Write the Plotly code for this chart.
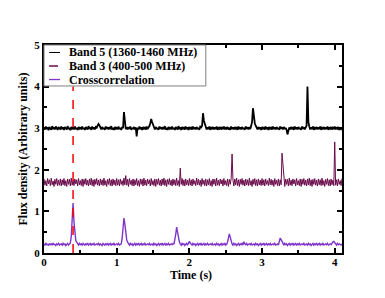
import numpy as np
import plotly.graph_objects as go

sample_step = 0.0125  # seconds between samples

band5 = [
    3.01,2.97,3.04,2.98,3.02,2.95,3.03,3.00,2.96,3.05,2.98,3.02,2.97,3.04,2.99,2.96,3.03,3.01,2.97,3.04,
    2.98,3.02,2.96,3.03,3.00,2.97,3.05,2.98,3.01,2.95,3.03,2.99,3.02,2.97,3.04,2.98,3.01,2.96,3.03,2.99,
    3.02,2.97,3.04,2.98,3.01,2.96,3.03,3.00,2.97,3.05,2.99,3.02,2.96,3.04,2.98,3.02,2.97,3.03,3.01,3.06,
    3.10,3.07,3.02,2.97,3.03,2.98,3.01,2.96,3.04,2.99,3.02,2.97,3.03,2.98,3.05,2.97,3.01,2.96,3.03,2.99,
    3.02,2.97,3.04,2.98,3.01,2.96,3.03,3.00,3.39,3.10,2.98,3.03,2.97,3.02,2.99,3.04,2.96,3.01,2.98,3.03,
    2.97,3.02,2.80,3.01,2.97,3.04,2.98,3.02,2.96,3.03,2.99,3.01,2.97,3.04,2.98,3.02,3.05,3.12,3.22,3.15,
    3.08,3.02,2.97,3.03,2.98,3.01,2.96,3.04,2.99,3.02,2.97,3.03,2.98,3.05,2.97,3.01,2.96,3.03,2.99,3.02,
    2.97,3.04,2.98,3.01,2.96,3.03,3.00,2.97,3.05,2.98,3.02,2.96,3.03,2.99,3.01,2.97,3.04,2.98,3.02,2.96,
    3.03,2.99,3.01,2.97,3.04,2.98,3.02,2.97,3.03,2.98,3.01,2.96,3.04,3.02,3.06,3.36,3.18,3.10,3.03,2.97,
    3.02,2.98,3.04,2.96,3.01,2.99,3.03,2.97,3.02,2.98,3.04,2.96,3.02,2.99,3.03,2.97,3.01,2.98,3.04,2.97,
    3.02,2.99,3.03,2.97,3.01,2.96,3.04,2.98,3.02,2.97,3.03,2.99,3.01,2.96,3.04,2.98,3.02,2.97,3.03,2.98,
    3.01,2.96,3.04,2.99,3.02,2.97,3.03,2.98,3.05,3.15,3.48,3.25,3.12,3.06,3.01,2.97,3.03,2.98,3.02,2.96,
    3.03,2.99,3.01,2.97,3.04,2.98,3.02,2.96,3.03,2.99,3.01,2.97,3.04,2.98,3.02,2.97,3.03,2.98,3.01,2.96,
    3.04,2.99,3.02,2.97,3.03,2.98,3.01,2.96,2.85,2.98,3.02,2.97,3.03,2.99,3.01,2.96,3.04,2.98,3.02,2.97,
    3.03,2.98,3.01,2.96,3.04,2.99,3.02,2.97,3.03,3.06,4.00,3.15,3.04,2.97,3.02,2.98,3.04,2.96,3.01,2.99,
    3.03,2.97,3.02,2.98,3.04,2.96,3.01,2.99,3.03,2.97,3.02,2.98,3.04,2.96,3.02,2.99,3.03,2.97,3.01,2.98,
    3.04,2.97,3.02,2.99,3.03,2.96,3.01,2.98,3.02,
]

band3 = [
    1.78,1.63,1.74,1.61,1.79,1.66,1.76,1.62,1.80,1.64,1.73,1.60,1.77,1.65,1.79,1.62,1.75,1.63,1.78,1.61,
    1.76,1.64,1.79,1.62,1.74,1.60,1.78,1.65,1.77,1.61,1.80,1.63,1.75,1.62,1.78,1.66,1.76,1.61,1.79,1.64,
    1.74,1.62,1.78,1.60,1.77,1.65,1.79,1.63,1.75,1.61,1.78,1.64,1.80,1.62,1.76,1.60,1.77,1.65,1.79,1.63,
    1.75,1.61,1.78,1.64,1.76,1.62,1.80,1.63,1.74,1.60,1.77,1.65,1.79,1.62,1.76,1.61,1.78,1.64,1.75,1.62,
    1.79,1.63,1.76,1.61,1.78,1.65,1.74,1.62,1.80,1.64,1.86,1.63,1.77,1.60,1.79,1.65,1.75,1.62,1.78,1.61,
    1.76,1.64,1.79,1.62,1.74,1.60,1.78,1.65,1.77,1.61,1.80,1.63,1.75,1.62,1.78,1.66,1.76,1.61,1.79,1.64,
    1.74,1.62,1.78,1.60,1.77,1.65,1.79,1.63,1.75,1.61,1.78,1.64,1.80,1.62,1.76,1.60,1.77,1.65,1.79,1.63,
    1.75,1.61,1.78,1.64,1.76,1.62,1.80,1.63,1.74,1.60,2.04,1.65,1.79,1.62,1.76,1.61,1.78,1.64,1.75,1.62,
    1.79,1.63,1.76,1.61,1.78,1.65,1.74,1.62,1.80,1.64,1.77,1.63,1.75,1.60,1.79,1.65,1.75,1.62,1.78,1.61,
    1.76,1.64,1.79,1.62,1.74,1.60,1.78,1.65,1.77,1.61,1.80,1.63,1.75,1.62,1.78,1.66,1.76,1.61,1.79,1.64,
    1.74,1.62,1.78,1.60,1.77,1.65,1.79,2.38,1.75,1.61,1.78,1.64,1.80,1.62,1.76,1.60,1.77,1.65,1.79,1.63,
    1.75,1.61,1.78,1.64,1.76,1.62,1.80,1.63,1.74,1.60,1.77,1.65,1.79,1.62,1.76,1.61,1.78,1.64,1.75,1.62,
    1.79,1.63,1.76,1.61,1.78,1.65,1.74,1.62,1.80,1.64,1.77,1.63,1.75,1.60,1.79,1.65,1.75,1.62,1.78,1.61,
    1.76,1.64,2.40,2.10,1.95,1.60,1.78,1.65,1.77,1.61,1.80,1.63,1.75,1.62,1.78,1.66,1.76,1.61,1.79,1.64,
    1.74,1.62,1.78,1.60,1.77,1.65,1.79,1.63,1.75,1.61,1.78,1.64,1.80,1.62,1.76,1.60,1.77,1.65,1.79,1.63,
    1.75,1.61,1.78,1.64,1.76,1.62,1.80,1.63,1.74,1.60,1.77,1.65,1.79,1.62,1.76,1.61,1.78,1.64,1.75,1.62,
    2.67,1.63,1.76,1.61,1.78,1.65,1.74,1.62,1.79,
]

crosscorr = [
    0.22,0.19,0.23,0.20,0.21,0.18,0.23,0.20,0.22,0.19,0.24,0.20,0.21,0.18,0.22,0.20,0.23,0.19,0.21,0.22,
    0.19,0.23,0.20,0.22,0.18,0.21,0.23,0.19,0.22,0.24,0.40,0.70,1.20,0.75,0.42,0.30,0.26,0.22,0.19,0.23,
    0.20,0.22,0.18,0.23,0.21,0.19,0.22,0.20,0.24,0.19,0.21,0.23,0.18,0.22,0.20,0.23,0.19,0.21,0.22,0.20,
    0.23,0.19,0.22,0.20,0.18,0.23,0.21,0.19,0.22,0.20,0.24,0.19,0.21,0.23,0.18,0.22,0.20,0.23,0.19,0.21,
    0.22,0.20,0.23,0.19,0.21,0.22,0.35,0.55,0.84,0.70,0.45,0.32,0.26,0.22,0.19,0.23,0.20,0.22,0.18,0.21,
    0.23,0.19,0.22,0.20,0.24,0.19,0.21,0.23,0.18,0.22,0.20,0.23,0.19,0.21,0.22,0.20,0.23,0.19,0.21,0.22,
    0.19,0.23,0.20,0.22,0.18,0.21,0.23,0.19,0.22,0.20,0.24,0.19,0.21,0.23,0.18,0.22,0.20,0.23,0.19,0.21,
    0.22,0.20,0.23,0.21,0.30,0.45,0.62,0.50,0.35,0.27,0.22,0.19,0.23,0.20,0.22,0.18,0.21,0.23,0.19,0.22,
    0.28,0.24,0.21,0.19,0.23,0.20,0.22,0.18,0.21,0.23,0.19,0.22,0.20,0.24,0.19,0.21,0.23,0.18,0.22,0.20,
    0.23,0.19,0.21,0.22,0.20,0.23,0.19,0.21,0.22,0.19,0.23,0.20,0.22,0.18,0.21,0.23,0.19,0.22,0.20,0.24,
    0.19,0.21,0.26,0.35,0.46,0.38,0.28,0.22,0.19,0.23,0.20,0.22,0.18,0.21,0.23,0.19,0.22,0.20,0.23,0.19,
    0.27,0.22,0.20,0.23,0.19,0.21,0.22,0.20,0.23,0.19,0.21,0.22,0.19,0.23,0.20,0.22,0.18,0.21,0.23,0.19,
    0.22,0.20,0.24,0.19,0.21,0.23,0.18,0.22,0.20,0.23,0.19,0.21,0.22,0.20,0.23,0.19,0.21,0.22,0.19,0.30,
    0.36,0.32,0.26,0.22,0.19,0.23,0.20,0.22,0.18,0.21,0.23,0.19,0.22,0.20,0.24,0.19,0.21,0.23,0.18,0.22,
    0.20,0.23,0.19,0.21,0.22,0.20,0.23,0.19,0.21,0.22,0.19,0.23,0.20,0.22,0.18,0.21,0.23,0.19,0.22,0.20,
    0.24,0.19,0.21,0.23,0.18,0.22,0.20,0.23,0.19,0.21,0.22,0.20,0.23,0.19,0.21,0.22,0.20,0.25,0.27,0.28,
    0.24,0.21,0.19,0.23,0.20,0.22,0.21,0.19,0.22,
]

marker_time = [0.4, 0.4]
marker_level = [0, 4]

series_names = ["Band 5 (1360-1460 MHz)", "Band 3 (400-500 MHz)", "Crosscorrelation"]

times = np.arange(len(band5)) * sample_step

BLACK = "#000000"
MAROON = "#6a0a4a"
PURPLE = "#7f35cc"
FONT = "Liberation Serif"

fig = go.Figure()
fig.add_trace(go.Scatter(x=times, y=band5, mode="lines", name=series_names[0],
                         line=dict(color=BLACK, width=1.8), showlegend=False))
fig.add_trace(go.Scatter(x=times, y=band3, mode="lines", name=series_names[1],
                         line=dict(color=MAROON, width=1), showlegend=False))
fig.add_trace(go.Scatter(x=times, y=crosscorr, mode="lines", name=series_names[2],
                         line=dict(color=PURPLE, width=1.4), showlegend=False))
fig.add_trace(go.Scatter(x=marker_time, y=marker_level, mode="lines", showlegend=False,
                         line=dict(color="#ff0000", width=1.5, dash="dash")))

# Compact legend box (xmgrace style) drawn in paper coordinates
legend_styles = [
    dict(color=BLACK, width=1, dash="solid"),
    dict(color=MAROON, width=1.5, dash="dash"),
    dict(color=PURPLE, width=1.3, dash="solid"),
]
legend_rows_y = [0.964, 0.899, 0.834]
fig.add_shape(type="rect", xref="paper", yref="paper", x0=0, x1=0.543, y0=0.803, y1=1,
              line=dict(color="#808080", width=1), fillcolor="white", layer="above")
for name, style, ry in zip(series_names, legend_styles, legend_rows_y):
    fig.add_shape(type="line", xref="paper", yref="paper", x0=0.017, x1=0.054, y0=ry, y1=ry,
                  line=style, layer="above")
    fig.add_annotation(text=name, xref="paper", yref="paper", x=0.077, y=ry,
                       xanchor="left", yanchor="middle", showarrow=False,
                       font=dict(family=FONT, size=12, color="black", weight="bold"))

axis_common = dict(
    showline=True, linecolor="black", linewidth=2, mirror="ticks",
    ticks="inside", ticklen=5, tickwidth=1.5, tickcolor="black",
    showgrid=False, zeroline=False, automargin=False,
    tickfont=dict(family=FONT, size=11, color="black", weight="bold"),
)

fig.update_xaxes(range=[0, 4.1], dtick=1, tick0=0, ticklabelstandoff=-2,
                 minor=dict(dtick=0.5, ticks="inside", ticklen=3, tickcolor="black", showgrid=False),
                 **axis_common)
fig.update_yaxes(range=[0, 5], dtick=1, tick0=0,
                 minor=dict(dtick=0.5, ticks="inside", ticklen=3, tickcolor="black", showgrid=False),
                 title=dict(text="Flux density (Arbitrary units)",
                            font=dict(family=FONT, size=12, color="black", weight="bold"), standoff=4),
                 **axis_common)

fig.add_annotation(text="Time (s)", xref="paper", yref="paper", x=0.492, y=-0.108,
                   xanchor="center", yanchor="middle", showarrow=False,
                   font=dict(family=FONT, size=12, color="black", weight="bold"))

fig.update_layout(
    width=377, height=290,
    margin=dict(l=36, r=43, t=37, b=45),
    paper_bgcolor="white", plot_bgcolor="white",
    showlegend=False,
)

fig.write_html("out.html")
